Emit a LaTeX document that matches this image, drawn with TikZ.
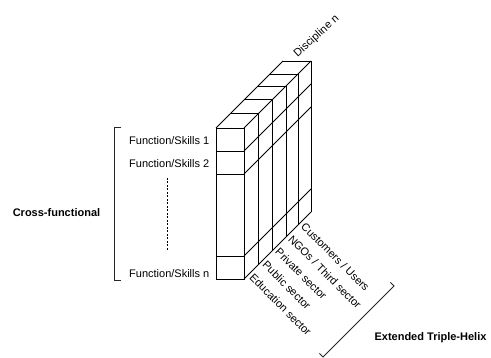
\documentclass[tikz,border=0pt]{standalone}
\usepackage{fontspec}
\setmainfont{Liberation Sans}
\begin{document}
\begin{tikzpicture}[x=1pt,y=-1pt,
  edge/.style={draw=black,line width=0.8pt,line join=miter},
  lbl/.style={inner sep=0pt,font=\fontsize{11}{13}\selectfont},
  boldlbl/.style={inner sep=0pt,font=\fontsize{11}{13}\selectfont\bfseries},
  sector/.style={inner sep=0pt,font=\fontsize{11}{13}\selectfont,rotate=-45,anchor=north west},
  brk/.style={draw=black!85,line width=0.8pt}]
\useasboundingbox (0,0) rectangle (491,358);
\fill[white] (0,0) rectangle (491,358);
% depth offsets of the discipline columns
\def\depths{0,14.5,28.5,42,54,67}
% front face
\coordinate (ftl) at (216,128);
\coordinate (ftr) at (244,128);
\coordinate (fbl) at (216,279);
\coordinate (fbr) at (244,279);
\draw[edge] (ftl) rectangle (fbr);
\foreach \yy in {151,174,256} \draw[edge] (216,\yy) -- (244,\yy);
% top face: lines across at each depth
\foreach \d in \depths \draw[edge] (216+\d,128-\d) -- (244+\d,128-\d);
\draw[edge] (ftl) -- ++(67,-67);
% right face: vertical lines at each depth
\foreach \d in \depths \draw[edge] (244+\d,128-\d) -- (244+\d,279-\d);
% right face: diagonal lines from the row boundaries
\foreach \yy in {128,151,174,256,279} \draw[edge] (244,\yy) -- ++(67,-67);
% function labels
\node[lbl,anchor=base east] (f1) at (209.5,144.5) {Function/Skills 1};
\node[lbl,anchor=base east] (f2) at (209.5,167.3) {Function/Skills 2};
\node[lbl,anchor=base east] (fn) at (209.5,277.3) {Function/Skills n};
\coordinate (dtop) at (167.7,178);
\coordinate (dbot) at (167.7,250);
\draw[black,line width=0.6pt,dash pattern=on 2pt off 1.5pt] (dtop) -- (dbot);
% left bracket
\coordinate (lb1) at (121,127);
\coordinate (lb2) at (114,127);
\coordinate (lb3) at (114,280);
\coordinate (lb4) at (121,280);
\draw[brk] (lb1) -- (lb2) -- (lb3) -- (lb4);
\node[boldlbl,anchor=base] (cf) at (56.5,216.3) {Cross-functional};
% sector labels
\node[sector] (s1) at (254.5,272.5) {Education sector};
\node[sector] (s2) at (267.4,259.8) {Public sector};
\node[sector] (s3) at (280.3,247) {Private sector};
\node[sector] (s4) at (293.2,234.3) {NGOs / Third sector};
\node[sector] (s5) at (306.1,221.5) {Customers / Users};
% discipline label
\node[inner sep=0pt,font=\fontsize{11}{13}\selectfont,rotate=42,anchor=base west] (dn) at (297.5,57.5) {Discipline n};
% right bracket
\coordinate (rb1) at (390.5,282.5);
\coordinate (rb2) at (394,286);
\coordinate (rb3) at (323,357);
\coordinate (rb4) at (319.5,353.5);
\draw[brk] (rb1) -- (rb2) -- (rb3) -- (rb4);
\node[boldlbl,anchor=base] (eth) at (430.5,340.5) {Extended Triple-Helix};
\end{tikzpicture}
\end{document}
